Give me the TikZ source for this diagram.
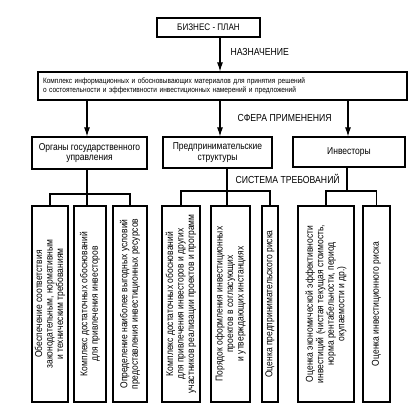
\documentclass[tikz,border=0pt]{standalone}
\usepackage{fontspec}
\setmainfont{Liberation Sans}[FakeStretch=0.85]
\usetikzlibrary{arrows.meta}
\tikzstyle{box}=[draw=black,fill=white,inner sep=1pt,align=center,font=\fontsize{10}{10.5}\selectfont]
\tikzstyle{leaf}=[box,rotate=90,minimum width=196pt]
\tikzstyle{arr}=[-{Latex[length=9pt,width=6pt]}]
\tikzstyle{lbl}=[anchor=west,inner sep=0pt,font=\fontsize{10.2}{11}\selectfont]

\begin{document}
\begin{tikzpicture}[style=thick, line width=1.1pt, x=1pt, y=-1pt]
	\useasboundingbox (0,0) rectangle (416,411);
	\node[box, minimum width=103pt, minimum height=19pt, font=\fontsize{9.5}{10}\selectfont] (plan) at (208.5,27.5) {БИЗНЕС - ПЛАН};
	\node[box, minimum width=369pt, minimum height=28pt, text width=359pt, align=left, font=\fontsize{7.7}{9.5}\selectfont] (main) at (222.5,86) {Комплекс информационных и обосновывающих материалов для принятия решений\\о состоятельности и эффективности инвестиционных намерений и предложений};
	\node[box, minimum width=115pt, minimum height=32pt] (org) at (89.5,153) {Органы государственного\\управления};
	\node[box, minimum width=109pt, minimum height=31pt] (pred) at (217.5,152.5) {Предпринимательские\\структуры};
	\node[box, minimum width=112pt, minimum height=30pt] (inv) at (349,152) {Инвесторы};
	\node[leaf, minimum height=36pt] (la) at (50,304) {Обеспечение соответствия\\законодательным, нормативным\\и техническим требованиям};
	\node[leaf, minimum height=32pt] (lb) at (90,304) {Комплекс достаточных обоснований\\для привлечения инвесторов};
	\node[leaf, minimum height=34pt] (lc) at (130,304) {Определение наиболее выгодных условий\\предоставления инвестиционных ресурсов};
	\node[leaf, minimum height=38pt] (ld) at (181,304) {Комплекс достаточных обоснований\\для привлечения инвесторов и других\\участников реализации проектов и программ};
	\node[leaf, minimum height=39pt] (le) at (230.5,304) {Порядок оформления инвестиционных\\проектов в согласующих\\и утверждающих инстанциях};
	\node[leaf, minimum height=16pt] (lf) at (270,304) {Оценка предпринимательского риска};
	\node[leaf, minimum height=56pt] (lg) at (326,304) {Оценка экономической эффективности\\инвестиций (чистая текущая стоимость,\\норма рентабельности, период\\окупаемости и др.)};
	\node[leaf, minimum height=27pt] (lh) at (376.5,304) {Оценка инвестиционного риска};
	\node[lbl] (goal) at (230,52) {НАЗНАЧЕНИЕ};
	\node[lbl] (scope) at (237,118) {СФЕРА ПРИМЕНЕНИЯ};
	\node[lbl] (req) at (235,179) {СИСТЕМА ТРЕБОВАНИЙ};
	\coordinate (c0) at (220,0);
	\coordinate (c1) at (87,0);
	\coordinate (c2) at (220,0);
	\coordinate (c3) at (348,0);
	\coordinate (j1) at (87,194);
	\coordinate (j2) at (227,191);
	\coordinate (j3) at (347,191);
	\draw[arr] (plan.south -| c0) -- (main.north -| c0);
	\draw[arr] (main.south -| c1) -- (org.north -| c1);
	\draw[arr] (main.south -| c2) -- (pred.north -| c2);
	\draw[arr] (main.south -| c3) -- (inv.north -| c3);
	\draw (org.south -| j1) -- (j1);
	\draw (la.east) |- (j1) -| (lc.east);
	\draw (j1) -- (lb.east -| j1);
	\draw (pred.south -| j2) -- (j2);
	\draw (ld.east) |- (j2) -| (lf.east);
	\draw (j2) -- (le.east -| j2);
	\draw (inv.south -| j3) -- (j3);
	\draw (lg.east) |- (j3) -| (lh.east);
\end{tikzpicture}
\end{document}
